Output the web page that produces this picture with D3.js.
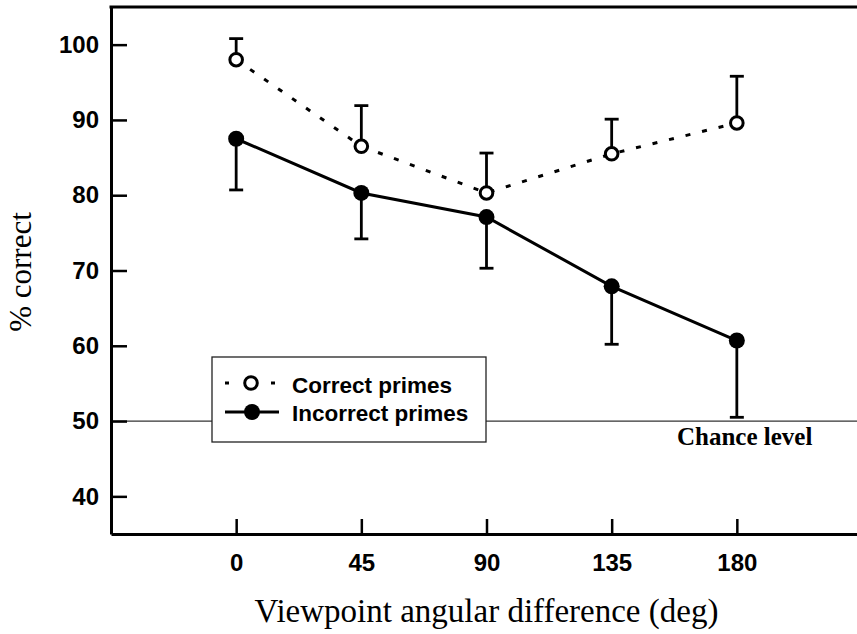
<!DOCTYPE html>
<html>
<head>
<meta charset="utf-8">
<script src="https://cdn.jsdelivr.net/npm/d3@7"></script>
<style>
  body { margin: 0; background: #fff; }
  .tick text { font-family: "Liberation Sans", Arial, sans-serif; font-weight: bold; font-size: 24px; fill: #000; }
</style>
</head>
<body>
<script>
// values
var angles = [0, 45, 90, 135, 180];
var correctMean = [98.0, 86.5, 80.3, 85.5, 89.6];
var correctErr = [2.8, 5.4, 5.3, 4.6, 6.2];
var incorrectMean = [87.5, 80.3, 77.1, 67.9, 60.7];
var incorrectErr = [6.8, 6.1, 6.8, 7.7, 10.2];
var yTicks = [40, 50, 60, 70, 80, 90, 100];
var chance = 50;

var width = 857, height = 634;

var svg = d3.select("body").append("svg")
   .attr("width", width)
   .attr("height", height);

var x = d3.scaleLinear().domain([-45, 225]).range([111, 862]);
var y = d3.scaleLinear().domain([35, 105]).range([534, 7]);

var r = 7.5;
var capW = 7;

// chance level line (behind everything)
svg.append("line")
   .attr("x1", x(-45)).attr("x2", width)
   .attr("y1", y(chance)).attr("y2", y(chance))
   .attr("stroke", "#333").attr("stroke-width", 1.2);

svg.append("text")
   .attr("x", 677).attr("y", y(chance) + 24)
   .style("font-family", "'Liberation Serif', 'Times New Roman', serif")
   .style("font-weight", "bold")
   .style("font-size", "25px")
   .text("Chance level");

// axes
var yAxis = d3.axisLeft(y)
   .tickValues(yTicks)
   .tickSizeInner(-16)
   .tickSizeOuter(0)
   .tickPadding(12);

var xAxis = d3.axisBottom(x)
   .tickValues(angles)
   .tickSizeInner(-15)
   .tickSizeOuter(0)
   .tickPadding(20);

var gy = svg.append("g")
   .attr("transform", "translate(" + x(-45) + ",0)")
   .call(yAxis);
var gx = svg.append("g")
   .attr("transform", "translate(0," + y(35) + ")")
   .call(xAxis);

[gx, gy].forEach(function(g) {
   g.select(".domain").attr("stroke", "#000").attr("stroke-width", 3);
   g.selectAll(".tick line").attr("stroke", "#000").attr("stroke-width", 2.5);
});

// top frame line
svg.append("line")
   .attr("x1", x(-45) - 1.5).attr("x2", width)
   .attr("y1", y(105)).attr("y2", y(105))
   .attr("stroke", "#000").attr("stroke-width", 3);

// axis titles
svg.append("text")
   .attr("x", x(90)).attr("y", 622)
   .attr("text-anchor", "middle")
   .style("font-family", "'Liberation Serif', 'Times New Roman', serif")
   .style("font-size", "33px")
   .text("Viewpoint angular difference (deg)");

svg.append("text")
   .attr("transform", "translate(31,272) rotate(-90)")
   .attr("text-anchor", "middle")
   .style("font-family", "'Liberation Serif', 'Times New Roman', serif")
   .style("font-size", "31px")
   .text("% correct");

// build point tables
var correct = angles.map(function(a, i) { return {a: a, m: correctMean[i], e: correctErr[i]}; });
var incorrect = angles.map(function(a, i) { return {a: a, m: incorrectMean[i], e: incorrectErr[i]}; });

var line = d3.line().x(d => x(d.a)).y(d => y(d.m));

// error bars: correct up, incorrect down
function errorBars(data, dir) {
   var g = svg.append("g").attr("stroke", "#000").attr("stroke-width", 2.8);
   g.selectAll("line.stem")
      .data(data).enter().append("line")
      .attr("class", "stem")
      .attr("x1", d => x(d.a)).attr("x2", d => x(d.a))
      .attr("y1", d => y(d.m))
      .attr("y2", d => y(d.m + dir * d.e));
   g.selectAll("line.cap")
      .data(data).enter().append("line")
      .attr("class", "cap")
      .attr("x1", d => x(d.a) - capW).attr("x2", d => x(d.a) + capW)
      .attr("y1", d => y(d.m + dir * d.e))
      .attr("y2", d => y(d.m + dir * d.e));
}
errorBars(correct, 1);
errorBars(incorrect, -1);

svg.append("path")
   .datum(correct)
   .attr("d", line)
   .attr("fill", "none")
   .attr("stroke", "#000")
   .attr("stroke-width", 3)
   .attr("stroke-dasharray", "5,12");

svg.append("path")
   .datum(incorrect)
   .attr("d", line)
   .attr("fill", "none")
   .attr("stroke", "#000")
   .attr("stroke-width", 3);

svg.selectAll("circle.open")
   .data(correct).enter().append("circle")
   .attr("class", "open")
   .attr("cx", d => x(d.a)).attr("cy", d => y(d.m))
   .attr("r", r - 1.2)
   .attr("fill", "#fff").attr("stroke", "#000").attr("stroke-width", 3);

svg.selectAll("circle.filled")
   .data(incorrect).enter().append("circle")
   .attr("class", "filled")
   .attr("cx", d => x(d.a)).attr("cy", d => y(d.m))
   .attr("r", r + 0.5)
   .attr("fill", "#000");

// legend
var lg = svg.append("g");
lg.append("rect")
   .attr("x", 212).attr("y", 357)
   .attr("width", 274).attr("height", 85)
   .attr("fill", "#fff").attr("stroke", "#222").attr("stroke-width", 1.3);

var lfont = "'Liberation Sans', Arial, sans-serif";
// correct primes symbol
[227, 273].forEach(function(px) {
   lg.append("line")
      .attr("x1", px - 2).attr("x2", px + 2)
      .attr("y1", 383).attr("y2", 383)
      .attr("stroke", "#000").attr("stroke-width", 3);
});
lg.append("circle")
   .attr("cx", 251).attr("cy", 383).attr("r", r - 1.2)
   .attr("fill", "#fff").attr("stroke", "#000").attr("stroke-width", 3);
lg.append("text")
   .attr("x", 292).attr("y", 393)
   .style("font-family", lfont).style("font-weight", "bold").style("font-size", "22.5px")
   .text("Correct primes");

// incorrect primes symbol
lg.append("line")
   .attr("x1", 225).attr("x2", 279)
   .attr("y1", 412).attr("y2", 412)
   .attr("stroke", "#000").attr("stroke-width", 3);
lg.append("circle")
   .attr("cx", 252).attr("cy", 412).attr("r", r + 0.5)
   .attr("fill", "#000");
lg.append("text")
   .attr("x", 292).attr("y", 421)
   .style("font-family", lfont).style("font-weight", "bold").style("font-size", "22.5px")
   .text("Incorrect primes");
</script>
</body>
</html>
